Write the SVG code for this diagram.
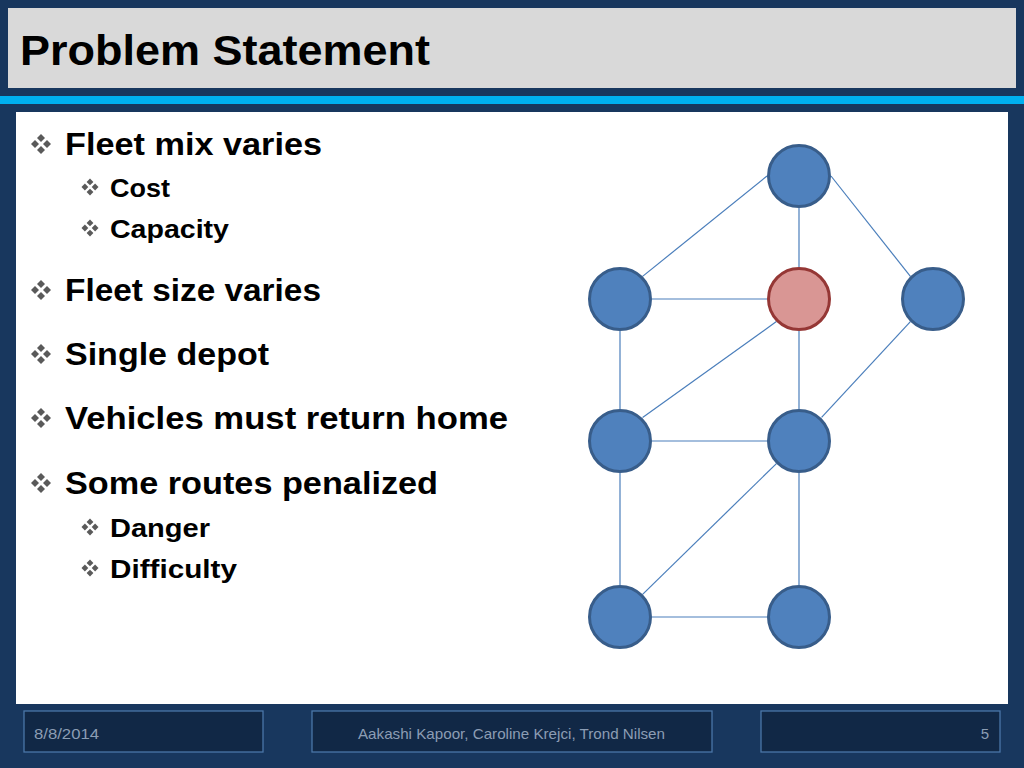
<svg xmlns="http://www.w3.org/2000/svg" xmlns:xlink="http://www.w3.org/1999/xlink" width="1024" height="768" viewBox="0 0 1024 768">
<style>
.t{font-family:"Liberation Sans",Arial,sans-serif;font-weight:bold;fill:#000}
.f{font-family:"Liberation Sans",Arial,sans-serif;font-size:15px;fill:#8c9db4}
.fb{fill:#112846;stroke:#4a76a8;stroke-width:1.3}
.e{stroke:#4a7ebb;stroke-width:1.2;fill:none}
.n{fill:#4f81bd;stroke:#385d8a;stroke-width:3}
.d{fill:#d99694;stroke:#953735;stroke-width:3}
.b{fill:#5a5a5a}
</style>
<defs>
<g id="bul">
<polygon points="0,-10 4,-6 0,-2 -4,-6"/>
<polygon points="-10,0 -6,-4 -2,0 -6,4"/>
<polygon points="10,0 6,-4 2,0 6,4"/>
<polygon points="0,10 4,6 0,2 -4,6"/>
</g>
</defs>
<rect x="0" y="0" width="1024" height="768" fill="#18375e"/>
<rect x="8" y="8" width="1008" height="80" fill="#d9d9d9"/>
<rect x="0" y="96" width="1024" height="8" fill="#00b0f0"/>
<rect x="16" y="112" width="992" height="592" fill="#ffffff"/>
<g id="title"><text class="t" x="20" y="65" font-size="43" textLength="410" lengthAdjust="spacingAndGlyphs">Problem Statement</text></g>
<g id="bullets">
<g class="b">
<use xlink:href="#bul" transform="translate(41,144)"/>
<use xlink:href="#bul" transform="translate(90,187) scale(0.85)"/>
<use xlink:href="#bul" transform="translate(90,228) scale(0.85)"/>
<use xlink:href="#bul" transform="translate(41,290)"/>
<use xlink:href="#bul" transform="translate(41,354)"/>
<use xlink:href="#bul" transform="translate(41,418)"/>
<use xlink:href="#bul" transform="translate(41,483)"/>
<use xlink:href="#bul" transform="translate(90,527) scale(0.85)"/>
<use xlink:href="#bul" transform="translate(90,568) scale(0.85)"/>
</g>
<text class="t" x="65" y="155" font-size="31" textLength="257" lengthAdjust="spacingAndGlyphs">Fleet mix varies</text>
<text class="t" x="110" y="197" font-size="26" textLength="60" lengthAdjust="spacingAndGlyphs">Cost</text>
<text class="t" x="110" y="238" font-size="26" textLength="119" lengthAdjust="spacingAndGlyphs">Capacity</text>
<text class="t" x="65" y="301" font-size="31" textLength="256" lengthAdjust="spacingAndGlyphs">Fleet size varies</text>
<text class="t" x="65" y="365" font-size="31" textLength="204" lengthAdjust="spacingAndGlyphs">Single depot</text>
<text class="t" x="65" y="429" font-size="31" textLength="443" lengthAdjust="spacingAndGlyphs">Vehicles must return home</text>
<text class="t" x="65" y="494" font-size="31" textLength="373" lengthAdjust="spacingAndGlyphs">Some routes penalized</text>
<text class="t" x="110" y="537" font-size="26" textLength="100" lengthAdjust="spacingAndGlyphs">Danger</text>
<text class="t" x="110" y="578" font-size="26" textLength="127" lengthAdjust="spacingAndGlyphs">Difficulty</text>
</g>
<g id="connectors">
<line class="e" x1="642.6" y1="276.4" x2="767" y2="176"/>
<line class="e" x1="831" y1="176" x2="910.4" y2="276.4"/>
<line class="e" x1="799" y1="208" x2="799" y2="267"/>
<line class="e" x1="652" y1="299" x2="767" y2="299"/>
<line class="e" x1="776.4" y1="321.6" x2="642.6" y2="417.4"/>
<line class="e" x1="910.4" y1="321.6" x2="821.6" y2="417.4"/>
<line class="e" x1="620" y1="331" x2="620" y2="409"/>
<line class="e" x1="799" y1="331" x2="799" y2="409"/>
<line class="e" x1="652" y1="441" x2="767" y2="441"/>
<line class="e" x1="620" y1="473" x2="620" y2="585"/>
<line class="e" x1="776.4" y1="463.6" x2="642.6" y2="594.4"/>
<line class="e" x1="799" y1="473" x2="799" y2="585"/>
<line class="e" x1="652" y1="617" x2="767" y2="617"/>
</g>
<g id="n-top"><circle class="n" cx="799" cy="176" r="30.5"/></g>
<g id="n-left"><circle class="n" cx="620" cy="299" r="30.5"/></g>
<g id="n-depot"><circle class="d" cx="799" cy="299" r="30.5"/></g>
<g id="n-right"><circle class="n" cx="933" cy="299" r="30.5"/></g>
<g id="n-midleft"><circle class="n" cx="620" cy="441" r="30.5"/></g>
<g id="n-midright"><circle class="n" cx="799" cy="441" r="30.5"/></g>
<g id="n-botleft"><circle class="n" cx="620" cy="617" r="30.5"/></g>
<g id="n-botright"><circle class="n" cx="799" cy="617" r="30.5"/></g>
<g id="footer">
<rect class="fb" x="24" y="711" width="239" height="41"/>
<rect class="fb" x="312" y="711" width="400" height="41"/>
<rect class="fb" x="761" y="711" width="239" height="41"/>
<text class="f" x="34" y="739" textLength="65" lengthAdjust="spacingAndGlyphs">8/8/2014</text>
<text class="f" x="358" y="739" textLength="307" lengthAdjust="spacingAndGlyphs">Aakashi Kapoor, Caroline Krejci, Trond Nilsen</text>
<text class="f" x="989" y="739" text-anchor="end">5</text>
</g>
</svg>
